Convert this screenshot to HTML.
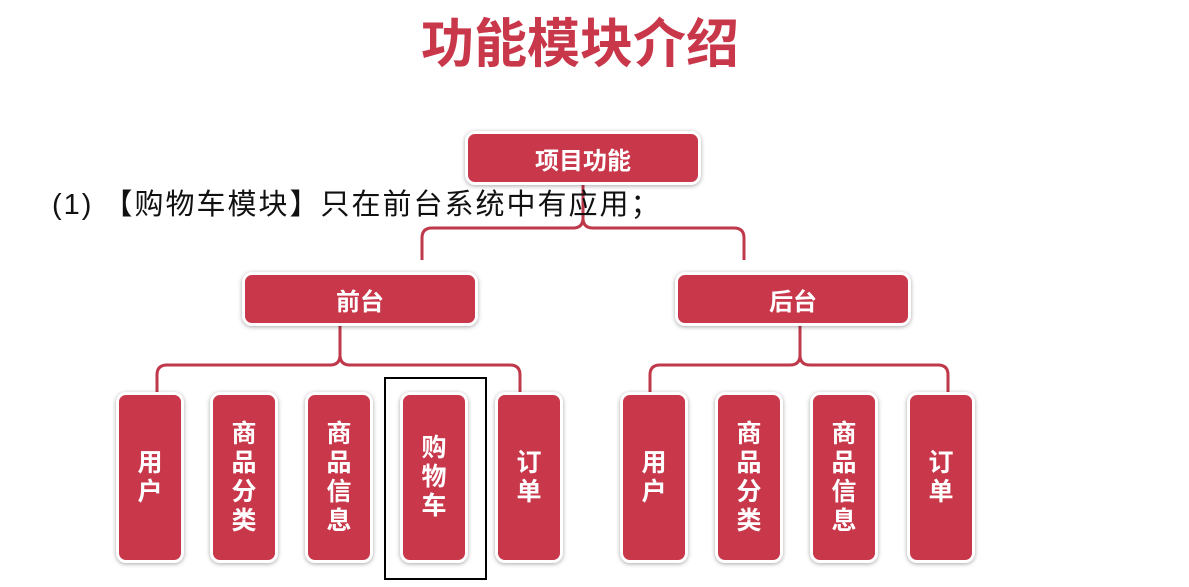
<!DOCTYPE html><html><head><meta charset="utf-8"><style>
body{margin:0;width:1189px;height:587px;background:#fff;position:relative;overflow:hidden;font-family:"Liberation Sans","Noto Sans CJK SC",sans-serif}
.b{position:absolute;background:#c8374a;border:3px solid #fff;border-radius:10px;box-shadow:0 1px 4px rgba(0,0,0,.35);color:#fff;font-weight:bold;display:flex;align-items:center;justify-content:center;box-sizing:border-box;text-align:center}
.h{font-size:24px;height:54px;width:236px}
.v{width:68px;height:171px;top:392px;font-size:25px;line-height:29px}
</style></head><body>
<div style="position:absolute;left:0;width:1160px;top:2px;text-align:center;font-size:53px;font-weight:bold;color:#c8374a">功能模块介绍</div>
<svg width="1189" height="587" style="position:absolute;left:0;top:0" fill="none" stroke="#c0394b" stroke-width="3">
<path d="M583 184 V218 Q583 228 573 228 H432 Q422 228 422 238 V260 M583 218 Q583 228 593 228 H734 Q744 228 744 238 V260"/>
<path d="M340 325 V355 Q340 365 330 365 H167 Q157 365 157 375 V393 M340 355 Q340 365 350 365 H510 Q520 365 520 375 V393"/>
<path d="M800 325 V355 Q800 365 790 365 H660 Q650 365 650 375 V393 M800 355 Q800 365 810 365 H938 Q948 365 948 375 V393"/>
</svg>
<div style="position:absolute;left:52px;top:181px;font-size:29px;letter-spacing:2px;color:#111;white-space:nowrap">(1) 【购物车模块】只在前台系统中有应用；</div>
<div class="b h" style="left:465px;top:131px">项目功能</div>
<div class="b h" style="left:242px;top:272px">前台</div>
<div class="b h" style="left:675px;top:272px">后台</div>
<div class="b v" style="left:116px">用<br>户</div>
<div class="b v" style="left:210px">商<br>品<br>分<br>类</div>
<div class="b v" style="left:305px">商<br>品<br>信<br>息</div>
<div class="b v" style="left:400px">购<br>物<br>车</div>
<div class="b v" style="left:495px">订<br>单</div>
<div class="b v" style="left:620px">用<br>户</div>
<div class="b v" style="left:715px">商<br>品<br>分<br>类</div>
<div class="b v" style="left:810px">商<br>品<br>信<br>息</div>
<div class="b v" style="left:907px">订<br>单</div>
<div style="position:absolute;left:384px;top:377px;width:99px;height:199px;border:2px solid #000"></div>
</body></html>
